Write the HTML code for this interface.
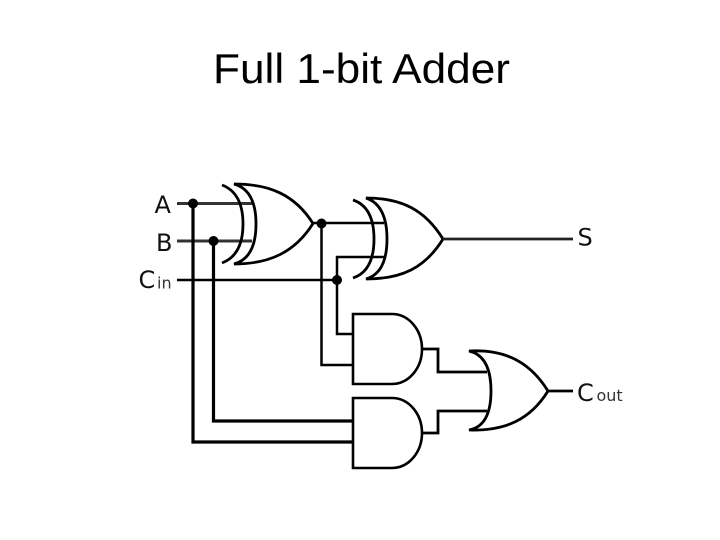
<!DOCTYPE html>
<html>
<head>
<meta charset="utf-8">
<style>
html,body{margin:0;padding:0;background:#fff;}
body{width:720px;height:540px;overflow:hidden;position:relative;}
svg{position:absolute;left:0;top:0;}
.soft{filter:blur(0.35px);}
</style>
</head>
<body>
<svg width="720" height="540" viewBox="0 0 720 540" xmlns="http://www.w3.org/2000/svg">
<text x="213" y="83" font-family="'Liberation Sans',sans-serif" font-size="42" fill="#000" textLength="297" lengthAdjust="spacingAndGlyphs">Full 1-bit Adder</text>
<g class="soft">
<g fill="none" stroke="#000" stroke-width="2.5">
  <!-- inputs -->
  <path d="M177 203.5H252" stroke="#333" stroke-width="3"/>
  <path d="M177 241H252" stroke="#333" stroke-width="3"/>
  <path d="M177 280H337"/>
  <path d="M193 203.5V442H353" stroke-width="3.2"/>
  <path d="M213.5 241V421H353" stroke-width="3.2"/>
  <path d="M313 223H384"/>
  <path d="M321.5 223V365H353"/>
  <path d="M384 257H337V334H353"/>
  <!-- XOR 1 -->
  <path d="M222 185Q243 193 243 224Q243 255 222 263" stroke-width="2.8"/>
  <path d="M234 184Q256 190 256 224Q256 258 234 264C270 264 295 252 313 223.5C295 195 270 184 234 184Z" stroke-width="2.8"/>
  <!-- XOR 2 -->
  <path d="M353 200Q374 207 374 239Q374 271 353 278" stroke-width="2.8"/>
  <path d="M366 198Q387 205 387 239Q387 273 366 279C402 279 425 268 443 239C425 210 402 198 366 198Z" stroke-width="2.8"/>
  <path d="M443 239H573" stroke-width="2.8" stroke="#222"/>
  <!-- AND 1 -->
  <path d="M353 314H392A30 35 0 0 1 392 384H353Z" stroke-width="2.6"/>
  <path d="M422 349H438V372H487" stroke-width="2.8"/>
  <!-- AND 2 -->
  <path d="M353 398H392A30 35 0 0 1 392 468H353Z" stroke-width="2.6"/>
  <path d="M422 433H438V411H487" stroke-width="2.8"/>
  <!-- OR -->
  <path d="M469 351Q491 356 491 391Q491 426 469 430C505 431 530 420 548 391C530 362 505 349 469 351Z" stroke-width="2.8"/>
  <path d="M548 391H573" stroke-width="2.8"/>
</g>
<g fill="#000">
  <circle cx="193" cy="203.5" r="5"/>
  <circle cx="213.5" cy="241" r="5"/>
  <circle cx="321.5" cy="223.5" r="5"/>
  <circle cx="337" cy="280" r="5"/>
</g>
<g font-family="'DejaVu Sans',sans-serif" fill="#111">
  <text x="154.500" y="213" font-size="24">A</text>
  <text x="156" y="251" font-size="24">B</text>
  <text x="138.500" y="288" font-size="24">C</text>
  <text x="157" y="288.500" font-size="16" fill="#333">in</text>
  <text x="577.500" y="245.500" font-size="24">S</text>
  <text x="577" y="401" font-size="24">C</text>
  <text x="596.500" y="401" font-size="16" fill="#333">out</text>
</g>
</g>
</svg>
</body>
</html>
